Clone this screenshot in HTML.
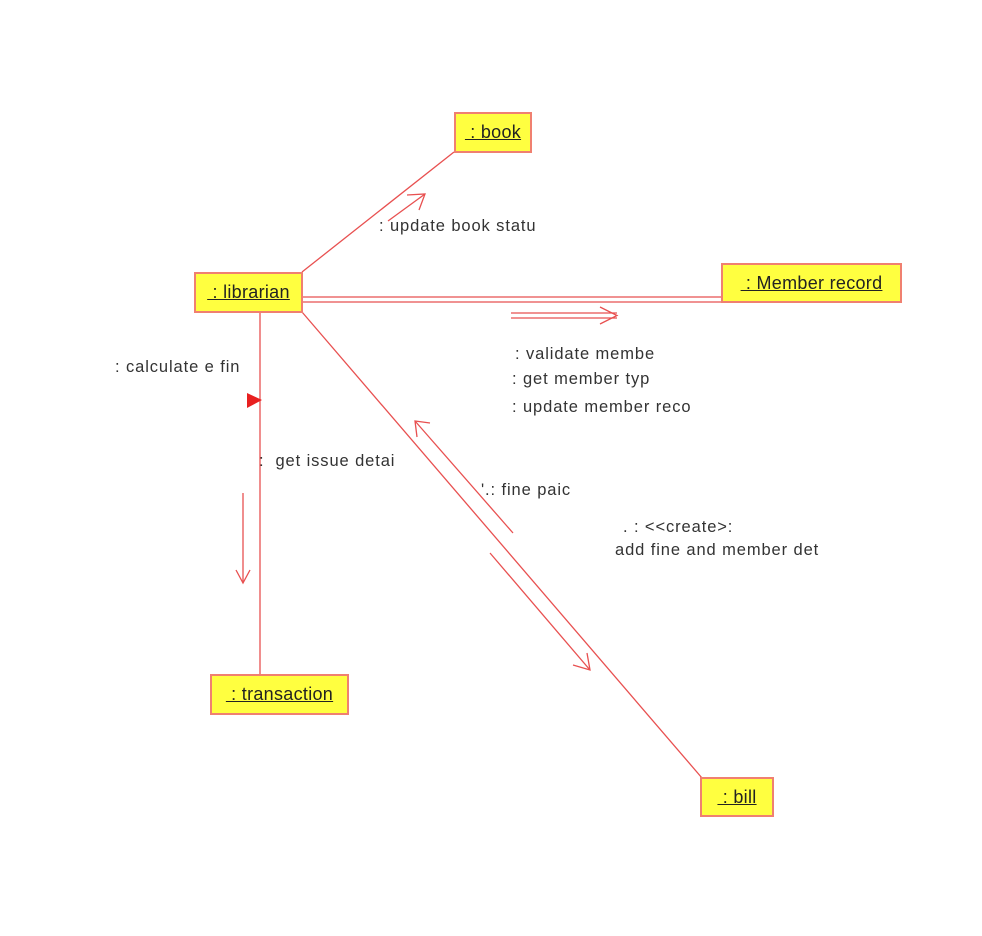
<!DOCTYPE html>
<html><head><style>
body{margin:0;background:#fff;width:982px;height:936px;overflow:hidden;font-family:"Liberation Sans",sans-serif;}
.b{position:absolute;background:#ffff40;border:2px solid #f08070;box-sizing:border-box;font-size:18px;letter-spacing:0.3px;color:#222;display:flex;align-items:center;justify-content:center;}
.b span{text-decoration:underline;}
.t{position:absolute;font-size:16.5px;letter-spacing:0.9px;color:#333;white-space:nowrap;line-height:18px;}
</style></head><body>
<svg width="982" height="936" style="position:absolute;left:0;top:0" fill="none" stroke="#e85050" stroke-width="1.3">
<line x1="302" y1="272" x2="454" y2="152"/>
<line x1="302" y1="297" x2="721" y2="297"/>
<line x1="302" y1="302" x2="721" y2="302"/>
<line x1="260" y1="312" x2="260" y2="674"/>
<line x1="302" y1="312" x2="702" y2="778"/>
<line x1="388" y1="221" x2="425" y2="194"/>
<polyline points="407,195 425,194 419,210"/>
<line x1="511" y1="313" x2="617" y2="313"/>
<line x1="511" y1="318" x2="617" y2="318"/>
<polyline points="600,307 617,315.5 600,324"/>
<line x1="513" y1="533" x2="415" y2="421"/>
<polyline points="430,423 415,421 417,437"/>
<line x1="490" y1="553" x2="590" y2="670"/>
<polyline points="573,665 590,670 587,653"/>
<line x1="243" y1="493" x2="243" y2="583"/>
<polyline points="236,570 243,583 250,570"/>
<polygon points="247,393 262,400 247,408" fill="#e82020" stroke="none"/>
</svg>
<div class="b" style="left:454px;top:112px;width:78px;height:41px"><span>&nbsp;: book</span></div>
<div class="b" style="left:194px;top:272px;width:109px;height:41px"><span>&nbsp;: librarian</span></div>
<div class="b" style="left:721px;top:263px;width:181px;height:40px"><span>&nbsp;: Member record</span></div>
<div class="b" style="left:210px;top:674px;width:139px;height:41px"><span>&nbsp;: transaction</span></div>
<div class="b" style="left:700px;top:777px;width:74px;height:40px"><span>&nbsp;: bill</span></div>
<div class="t" style="left:379px;top:217px">: update book statu</div>
<div class="t" style="left:115px;top:358px">: calculate e fin</div>
<div class="t" style="left:259px;top:452px">: &nbsp;get issue detai</div>
<div class="t" style="left:515px;top:345px">: validate membe</div>
<div class="t" style="left:512px;top:370px">: get member typ</div>
<div class="t" style="left:512px;top:398px">: update member reco</div>
<div class="t" style="left:481px;top:481px">'.: fine paic</div>
<div class="t" style="left:623px;top:518px">. : &lt;&lt;create&gt;:</div>
<div class="t" style="left:615px;top:541px">add fine and member det</div>
</body></html>
